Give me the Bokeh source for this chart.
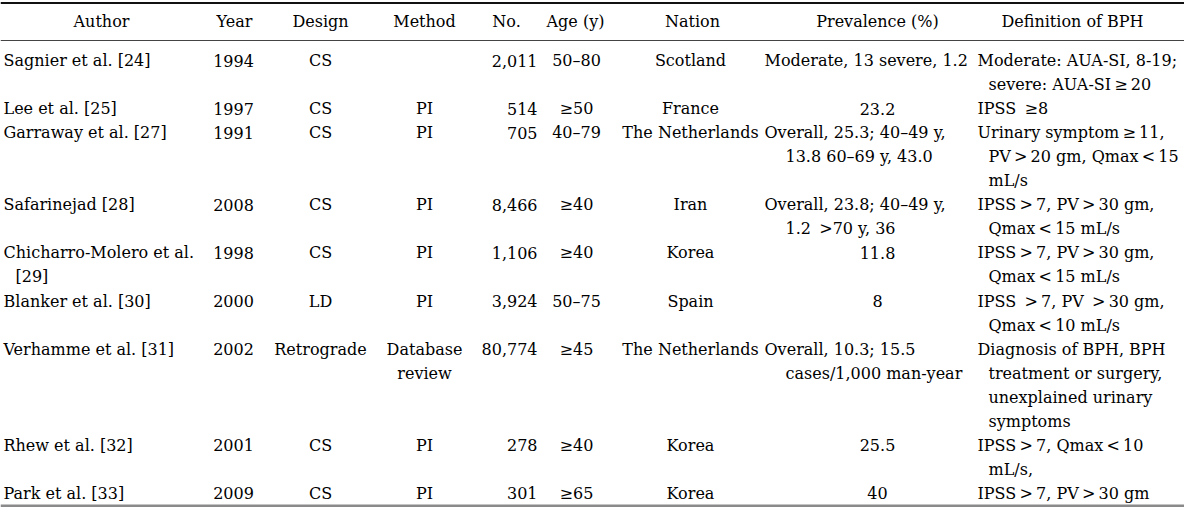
from bokeh.plotting import figure
from bokeh.models import Range1d, ColumnDataSource
from bokeh.core.properties import value
from bokeh.embed import file_html
from bokeh.resources import INLINE

# ---------------- table data ----------------
headers = ["Author", "Year", "Design", "Method", "No.", "Age (y)", "Nation",
           "Prevalence (%)", "Definition of BPH"]

authors = [["Sagnier et al. [24]"], ["Lee et al. [25]"], ["Garraway et al. [27]"],
           ["Safarinejad [28]"], ["Chicharro-Molero et al.", "[29]"],
           ["Blanker et al. [30]"], ["Verhamme et al. [31]"], ["Rhew et al. [32]"],
           ["Park et al. [33]"]]
years = ["1994", "1997", "1991", "2008", "1998", "2000", "2002", "2001", "2009"]
designs = ["CS", "CS", "CS", "CS", "CS", "LD", "Retrograde", "CS", "CS"]
methods = [[""], ["PI"], ["PI"], ["PI"], ["PI"], ["PI"], ["Database", "review"],
           ["PI"], ["PI"]]
numbers = ["2,011", "514", "705", "8,466", "1,106", "3,924", "80,774", "278", "301"]
ages = ["50\u201380", "\u226550", "40\u201379", "\u226540", "\u226540", "50\u201375",
        "\u226545", "\u226540", "\u226565"]
nations = ["Scotland", "France", "The Netherlands", "Iran", "Korea", "Spain",
           "The Netherlands", "Korea", "Korea"]
prevalence = [["Moderate, 13 severe, 1.2"], ["23.2"],
              ["Overall, 25.3; 40\u201349 y,", "13.8 60\u201369 y, 43.0"],
              ["Overall, 23.8; 40\u201349 y,", "1.2 \u2009>70 y, 36"],
              ["11.8"], ["8"],
              ["Overall, 10.3; 15.5", "cases/1,000 man-year"],
              ["25.5"], ["40"]]
definitions = [["Moderate: AUA-SI, 8-19;", "severe: AUA-SI\u2009\u2265\u200920"],
               ["IPSS \u2009\u22658"],
               ["Urinary symptom\u2009\u2265\u200911,", "PV\u2009>\u200920 gm, Qmax\u2009<\u200915", "mL/s"],
               ["IPSS\u2009>\u20097, PV\u2009>\u200930 gm,", "Qmax\u2009<\u200915 mL/s"],
               ["IPSS\u2009>\u20097, PV\u2009>\u200930 gm,", "Qmax\u2009<\u200915 mL/s"],
               ["IPSS \u2009>\u20097, PV \u2009>\u200930 gm,", "Qmax\u2009<\u200910 mL/s"],
               ["Diagnosis of BPH, BPH", "treatment or surgery,", "unexplained urinary", "symptoms"],
               ["IPSS\u2009>\u20097, Qmax\u2009<\u200910", "mL/s,"],
               ["IPSS\u2009>\u20097, PV\u2009>\u200930 gm"]]

# ---------------- layout (styles / positions) ----------------
FONT = value("DejaVu Serif")
SIZE = "16px"
COLOR = "#000000"
HEADER_Y = 23
LINE0 = 62
PITCH = 24.05

header_x = [101, 234, 320, 424, 506, 575, 692, 877, 1072]

left = dict(x=[], y=[], t=[])
center = dict(x=[], y=[], t=[])
right = dict(x=[], y=[], t=[])


def put(d, x, y, t):
    d["x"].append(x)
    d["y"].append(y)
    d["t"].append(t)


for hx, h in zip(header_x, headers):
    put(center, hx, HEADER_Y, h)

line = 0
for i in range(len(years)):
    cells = [authors[i], [years[i]], [designs[i]], methods[i], [numbers[i]],
             [ages[i]], [nations[i]], prevalence[i], definitions[i]]
    n = max(len(c) for c in cells)
    y0 = LINE0 + line * PITCH
    for j, t in enumerate(authors[i]):
        put(left, 3 if j == 0 else 15, y0 + j * PITCH, t)
    put(center, 233, y0, years[i])
    put(center, 320, y0, designs[i])
    for j, t in enumerate(methods[i]):
        if t:
            put(center, 424, y0 + j * PITCH, t)
    put(right, 537, y0, numbers[i])
    put(center, 576, y0, ages[i])
    put(center, 690, y0, nations[i])
    pv = prevalence[i]
    if len(pv) == 1 and "," not in pv[0]:
        put(center, 877, y0, pv[0])
    else:
        for j, t in enumerate(pv):
            put(left, 764 if j == 0 else 785, y0 + j * PITCH, t)
    for j, t in enumerate(definitions[i]):
        put(left, 977 if j == 0 else 988, y0 + j * PITCH, t)
    line += n

p = figure(width=1184, height=507, x_range=Range1d(0, 1184), y_range=Range1d(509, 2),
           output_backend="svg", toolbar_location=None, min_border=0,
           x_axis_type=None, y_axis_type=None, outline_line_color=None,
           background_fill_color="white", border_fill_color="white")
p.grid.visible = False

# rules
p.segment(x0=[0], y0=[4.5], x1=[1200], y1=[4.5], line_color="#111111", line_width=2)
p.segment(x0=[0], y0=[42], x1=[1200], y1=[42], line_color="#444444", line_width=1)
p.segment(x0=[0], y0=[507.5], x1=[1200], y1=[507.5], line_color="#8a8a8a", line_width=3)

for d, al in ((left, "left"), (center, "center"), (right, "right")):
    src = ColumnDataSource(dict(x=d["x"], y=d["y"], t=d["t"]))
    p.text(x="x", y="y", text="t", source=src, text_align=al,
           text_baseline="middle", text_font=FONT, text_font_size=SIZE,
           text_color=COLOR)

open("out.html", "w").write(file_html(p, INLINE))
